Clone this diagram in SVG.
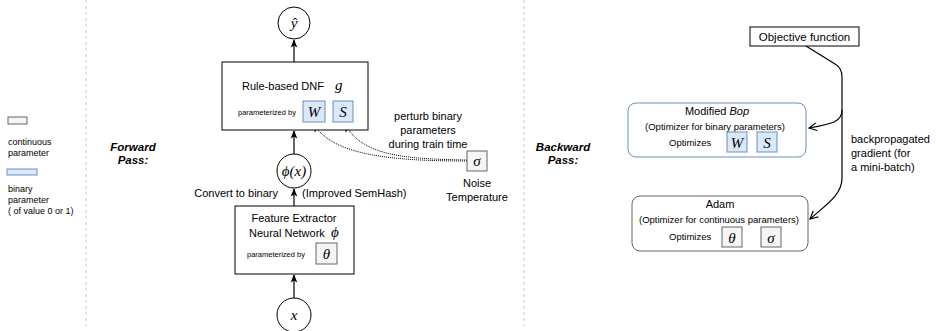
<svg xmlns="http://www.w3.org/2000/svg" width="936" height="331" viewBox="0 0 936 331">
  <defs>
    <marker id="arrow" viewBox="0 0 10 10" refX="9" refY="5" markerWidth="7" markerHeight="7" orient="auto">
      <path d="M0,1 L10,5 L0,9 L2.5,5 Z" fill="#000"/>
    </marker>
    <marker id="dotArrow" viewBox="0 0 10 10" refX="9" refY="5" markerWidth="9" markerHeight="9" orient="auto">
      <path d="M0,1 L10,5 L0,9 L2.5,5 Z" fill="#000"/>
    </marker>
    <marker id="openArrow" viewBox="0 0 10 10" refX="9" refY="5" markerWidth="8" markerHeight="8" orient="auto">
      <path d="M1,1 L9,5 L1,9" fill="none" stroke="#000" stroke-width="1.2"/>
    </marker>
    <style>
      text { font-family: "Liberation Sans", Arial, sans-serif; fill: #000; }
      .t11 { font-size: 11px; }
      .t9 { font-size: 9.5px; }
      .lg { font-size: 9px; }
      .small { font-size: 7.5px; }
      .math { font-family: "Liberation Serif", "Times New Roman", serif; font-style: italic; font-size: 15px; }
      .pass { font-size: 11.5px; font-weight: bold; font-style: italic; }
      .box { fill: #fff; stroke: #000; stroke-width: 1; }
      .bin { fill: #dae8fc; stroke: #6c8ebf; stroke-width: 1; }
      .cont { fill: #f5f5f5; stroke: #666; stroke-width: 1; }
      .divider { stroke: #ccc; stroke-width: 1; stroke-dasharray: 3 3; fill: none; }
      .edge { stroke: #000; stroke-width: 1.2; fill: none; }
      .dotted { stroke: #000; stroke-width: 1; stroke-dasharray: 1 1; fill: none; }
    </style>
  </defs>

  <!-- section dividers -->
  <line class="divider" x1="86" y1="0" x2="86" y2="326"/>
  <line class="divider" x1="524" y1="0" x2="524" y2="326"/>

  <!-- legend -->
  <g id="legend">
    <rect class="cont" x="8" y="117" width="19" height="7"/>
    <text class="lg" x="8" y="145">continuous</text>
    <text class="lg" x="8" y="156">parameter</text>
    <rect class="bin" x="7" y="169" width="30" height="6"/>
    <text class="lg" x="8" y="192">binary</text>
    <text class="lg" x="8" y="203">parameter</text>
    <text class="lg" x="8" y="214">( of value 0 or 1)</text>
  </g>

  <!-- section titles -->
  <g id="forward-label">
    <text class="pass" x="133" y="151" text-anchor="middle">Forward</text>
    <text class="pass" x="133" y="164" text-anchor="middle">Pass:</text>
  </g>
  <g id="backward-label">
    <text class="pass" x="563" y="151" text-anchor="middle">Backward</text>
    <text class="pass" x="563" y="164" text-anchor="middle">Pass:</text>
  </g>

  <!-- connectors -->
  <g id="connectors">
    <line class="edge" x1="294" y1="298" x2="294" y2="275" marker-end="url(#arrow)"/>
    <line class="edge" x1="294" y1="206" x2="294" y2="189" marker-end="url(#arrow)"/>
    <line class="edge" x1="294" y1="154" x2="294" y2="131" marker-end="url(#arrow)"/>
    <line class="edge" x1="294" y1="62" x2="294" y2="40" marker-end="url(#arrow)"/>
    <path class="dotted" d="M467,160 C405,159 362,156 345,124" marker-end="url(#dotArrow)"/>
    <path class="dotted" d="M467,161 C395,161 332,156 314,124" marker-end="url(#dotArrow)"/>
    <path class="edge" d="M806,46 L835,64 Q842,68 842,77 L842,178 C842,195 826,205 810,219" marker-end="url(#openArrow)"/>
    <path class="edge" d="M842,110 C842,122 832,124 809,128" marker-end="url(#openArrow)"/>
  </g>

  <!-- forward pass nodes -->
  <g id="y-hat">
    <circle class="box" cx="294" cy="23" r="16"/>
    <text class="math" x="294" y="28" text-anchor="middle">ŷ</text>
  </g>

  <g id="dnf">
    <rect class="box" x="222" y="62" width="146" height="68"/>
    <text class="t11" x="242" y="90">Rule-based DNF</text>
    <text class="math" x="335" y="90">g</text>
    <text class="small" x="238" y="115">parameterized by</text>
    <rect class="bin" x="303" y="101" width="22" height="21"/>
    <text class="math" x="314" y="117" text-anchor="middle">W</text>
    <rect class="bin" x="333" y="101" width="20" height="21"/>
    <text class="math" x="343" y="117" text-anchor="middle">S</text>
  </g>

  <g id="perturb-note">
    <text class="t11" x="428" y="120" text-anchor="middle">perturb binary</text>
    <text class="t11" x="428" y="134" text-anchor="middle">parameters</text>
    <text class="t11" x="428" y="148" text-anchor="middle">during train time</text>
  </g>

  <g id="noise">
    <rect class="cont" x="467" y="151" width="20" height="20"/>
    <text class="math" x="477" y="166" text-anchor="middle">σ</text>
    <text class="t11" x="477" y="187" text-anchor="middle">Noise</text>
    <text class="t11" x="477" y="201" text-anchor="middle">Temperature</text>
  </g>

  <g id="phi-x">
    <circle class="box" cx="294" cy="171" r="17"/>
    <text class="math" x="294" y="176" text-anchor="middle">ϕ(x)</text>
  </g>

  <g id="binarize-labels">
    <text class="t11" x="278" y="197" text-anchor="end">Convert to binary</text>
    <text class="t11" x="302" y="197">(Improved SemHash)</text>
  </g>

  <g id="feature-extractor">
    <rect class="box" x="235" y="206" width="119" height="68"/>
    <text class="t11" x="294" y="222" text-anchor="middle">Feature Extractor</text>
    <text class="t11" x="249" y="237">Neural Network</text>
    <text class="math" x="331" y="237">ϕ</text>
    <text class="small" x="247" y="257">parameterized by</text>
    <rect class="cont" x="316" y="243" width="21" height="21"/>
    <text class="math" x="326.5" y="259" text-anchor="middle">θ</text>
  </g>

  <g id="x-input">
    <circle class="box" cx="294" cy="315" r="17"/>
    <text class="math" x="294" y="320" text-anchor="middle">x</text>
  </g>

  <!-- backward pass nodes -->
  <g id="objective">
    <rect class="box" x="750" y="27" width="109" height="19"/>
    <text x="804.5" y="40.5" font-size="11.5" text-anchor="middle">Objective function</text>
  </g>

  <g id="gradient-label">
    <text class="t11" x="851" y="143">backpropagated</text>
    <text class="t11" x="851" y="157">gradient (for</text>
    <text class="t11" x="851" y="171">a mini-batch)</text>
  </g>

  <g id="bop">
    <rect x="628" y="103" width="178" height="54" rx="8" fill="#fff" stroke="#6c8ebf" stroke-width="1"/>
    <text class="t11" x="717" y="115" text-anchor="middle">Modified <tspan font-style="italic">Bop</tspan></text>
    <text class="t9" x="715" y="130" text-anchor="middle">(Optimizer for binary parameters)</text>
    <text class="t9" x="669" y="146">Optimizes</text>
    <rect class="bin" x="727" y="132" width="20" height="20"/>
    <text class="math" x="737" y="147.5" text-anchor="middle">W</text>
    <rect class="bin" x="757" y="132" width="20" height="20"/>
    <text class="math" x="767" y="147.5" text-anchor="middle">S</text>
  </g>

  <g id="adam">
    <rect x="632" y="196" width="176" height="55" rx="8" fill="#fff" stroke="#666" stroke-width="1"/>
    <text class="t11" x="720" y="208" text-anchor="middle">Adam</text>
    <text class="t9" x="719" y="223" text-anchor="middle">(Optimizer for continuous parameters)</text>
    <text class="t9" x="669" y="240">Optimizes</text>
    <rect class="cont" x="722" y="227" width="20" height="20"/>
    <text class="math" x="732" y="242.5" text-anchor="middle">θ</text>
    <rect class="cont" x="761" y="227" width="20" height="20"/>
    <text class="math" x="771" y="242.5" text-anchor="middle">σ</text>
  </g>
</svg>
